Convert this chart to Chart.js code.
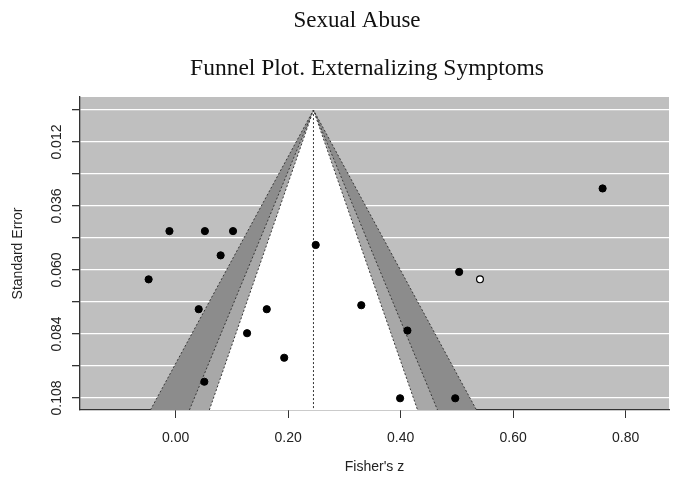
<!DOCTYPE html>
<html><head><meta charset="utf-8">
<script src="https://cdn.jsdelivr.net/npm/chart.js@4.4.1/dist/chart.umd.min.js"></script>
<style>html,body{margin:0;padding:0;background:#fff}</style></head>
<body><canvas id="c" width="677" height="487"></canvas>
<script>
// ---- data ----
const studyZ  = [-0.011, 0.052, 0.102, 0.080, -0.048, 0.249, 0.759, 0.504, 0.041, 0.162, 0.127, 0.193, 0.051, 0.330, 0.412, 0.399, 0.497];
const studySE = [0.0454, 0.0454, 0.0454, 0.0545, 0.0635, 0.0506, 0.0294, 0.0607, 0.0747, 0.0747, 0.0837, 0.0929, 0.1019, 0.0732, 0.0827, 0.1081, 0.1081];
const imputedZ  = [0.541];
const imputedSE = [0.0635];
const pooledZ = 0.245;
const contourLevelsZ = [2.576, 1.96, 1.645];   // 99%, 95%, 90%
const xTickValues = [0, 0.2, 0.4, 0.6, 0.8];
const yTickValues = [0.012, 0.036, 0.060, 0.084, 0.108];
const yTickLabels = ['0.012', '0.036', '0.060', '0.084', '0.108'];
const titleLines = ['Sexual Abuse', 'Funnel Plot. Externalizing Symptoms'];
const xRange = [-0.170, 0.877];
const seRange = [-0.0049, 0.1125];

const contourColors = ['#8c8c8c', '#a8a8a8', '#ffffff'];
const maxSE = seRange[1];

const datasets = [];
contourLevelsZ.forEach((z, i) => {
  datasets.push({
    type: 'line',
    data: [
      {x: pooledZ - z * maxSE, y: maxSE},
      {x: pooledZ, y: 0},
      {x: pooledZ + z * maxSE, y: maxSE}
    ],
    borderColor: '#3a3a3a',
    borderWidth: 1,
    borderDash: [2, 2],
    backgroundColor: contourColors[i],
    fill: {value: maxSE},
    pointRadius: 0,
    tension: 0,
    order: 10 - i
  });
});
datasets.push({
  type: 'line',
  data: [{x: pooledZ, y: 0}, {x: pooledZ, y: maxSE}],
  borderColor: '#333',
  borderWidth: 1,
  borderDash: [2, 2],
  pointRadius: 0,
  fill: false,
  order: 2
});
datasets.push({
  type: 'scatter',
  data: studyZ.map((z, i) => ({x: z, y: studySE[i]})),
  pointRadius: 3.6,
  pointBackgroundColor: '#000',
  pointBorderColor: '#000',
  pointBorderWidth: 1,
  order: 1
});
datasets.push({
  type: 'scatter',
  data: imputedZ.map((z, i) => ({x: z, y: imputedSE[i]})),
  pointRadius: 3.4,
  pointBackgroundColor: '#fff',
  pointBorderColor: '#000',
  pointBorderWidth: 1.2,
  order: 0
});

const bgPlugin = {
  id: 'plotBg',
  beforeDraw(chart) {
    const {ctx, chartArea: a} = chart;
    ctx.save();
    ctx.fillStyle = '#bfbfbf';
    ctx.fillRect(a.left, a.top, a.right - a.left, a.bottom - a.top);
    ctx.restore();
  }
};
const textPlugin = {
  id: 'texts',
  afterDraw(chart) {
    const {ctx} = chart;
    const ys = chart.scales.y;
    ctx.save();
    // y tick labels, vertical as in R
    ctx.font = '14px "Liberation Sans", Arial, sans-serif';
    ctx.fillStyle = '#222';
    ctx.textAlign = 'center';
    ctx.textBaseline = 'middle';
    yTickValues.forEach((v, i) => {
      const py = ys.getPixelForValue(v);
      ctx.save();
      ctx.translate(57, py);
      ctx.rotate(-Math.PI / 2);
      ctx.fillText(yTickLabels[i], 0, 0);
      ctx.restore();
    });
    // titles
    ctx.fillStyle = '#111';
    ctx.textBaseline = 'alphabetic';
    ctx.font = '23px "Liberation Serif", serif';
    ctx.fillText(titleLines[0], 357, 27);
    ctx.font = '23.5px "Liberation Serif", serif';
    ctx.fillText(titleLines[1], 367, 75);
    ctx.restore();
  }
};

new Chart(document.getElementById('c'), {
  type: 'scatter',
  data: {datasets},
  options: {
    responsive: false,
    animation: false,
    events: [],
    layout: {padding: {right: 8, left: 0, top: 97, bottom: 0}},
    plugins: {
      legend: {display: false},
      tooltip: {enabled: false},
      title: {display: false}
    },
    scales: {
      x: {
        type: 'linear', min: xRange[0], max: xRange[1],
        afterBuildTicks(s) { s.ticks = xTickValues.map(v => ({value: v})); },
        afterFit(s) { s.height = 77; },
        ticks: {
          callback: v => Number(v).toFixed(2),
          font: {family: '"Liberation Sans", Arial, sans-serif', size: 14},
          color: '#222', padding: 12, maxRotation: 0
        },
        grid: {drawOnChartArea: false, tickLength: 8, tickColor: '#333', color: '#333'},
        border: {display: true, color: '#333', width: 1.3},
        title: {
          display: true, text: "Fisher's z", color: '#222',
          font: {family: '"Liberation Sans", Arial, sans-serif', size: 14},
          padding: {top: 0, bottom: 11}
        }
      },
      y: {
        type: 'linear', reverse: true, min: seRange[0], max: seRange[1],
        ticks: {stepSize: 0.012, includeBounds: false, callback: () => '', font: {size: 12}},
        afterFit(s) { s.width = 80; },
        grid: {color: '#ffffff', lineWidth: 1.3, tickLength: 8, tickColor: '#333', drawTicks: true},
        border: {display: true, color: '#333', width: 1.3},
        title: {
          display: true, text: 'Standard Error', color: '#222',
          font: {family: '"Liberation Sans", Arial, sans-serif', size: 14},
          padding: {top: 10, bottom: 0}
        }
      }
    }
  },
  plugins: [bgPlugin, textPlugin]
});
</script>
</body></html>
